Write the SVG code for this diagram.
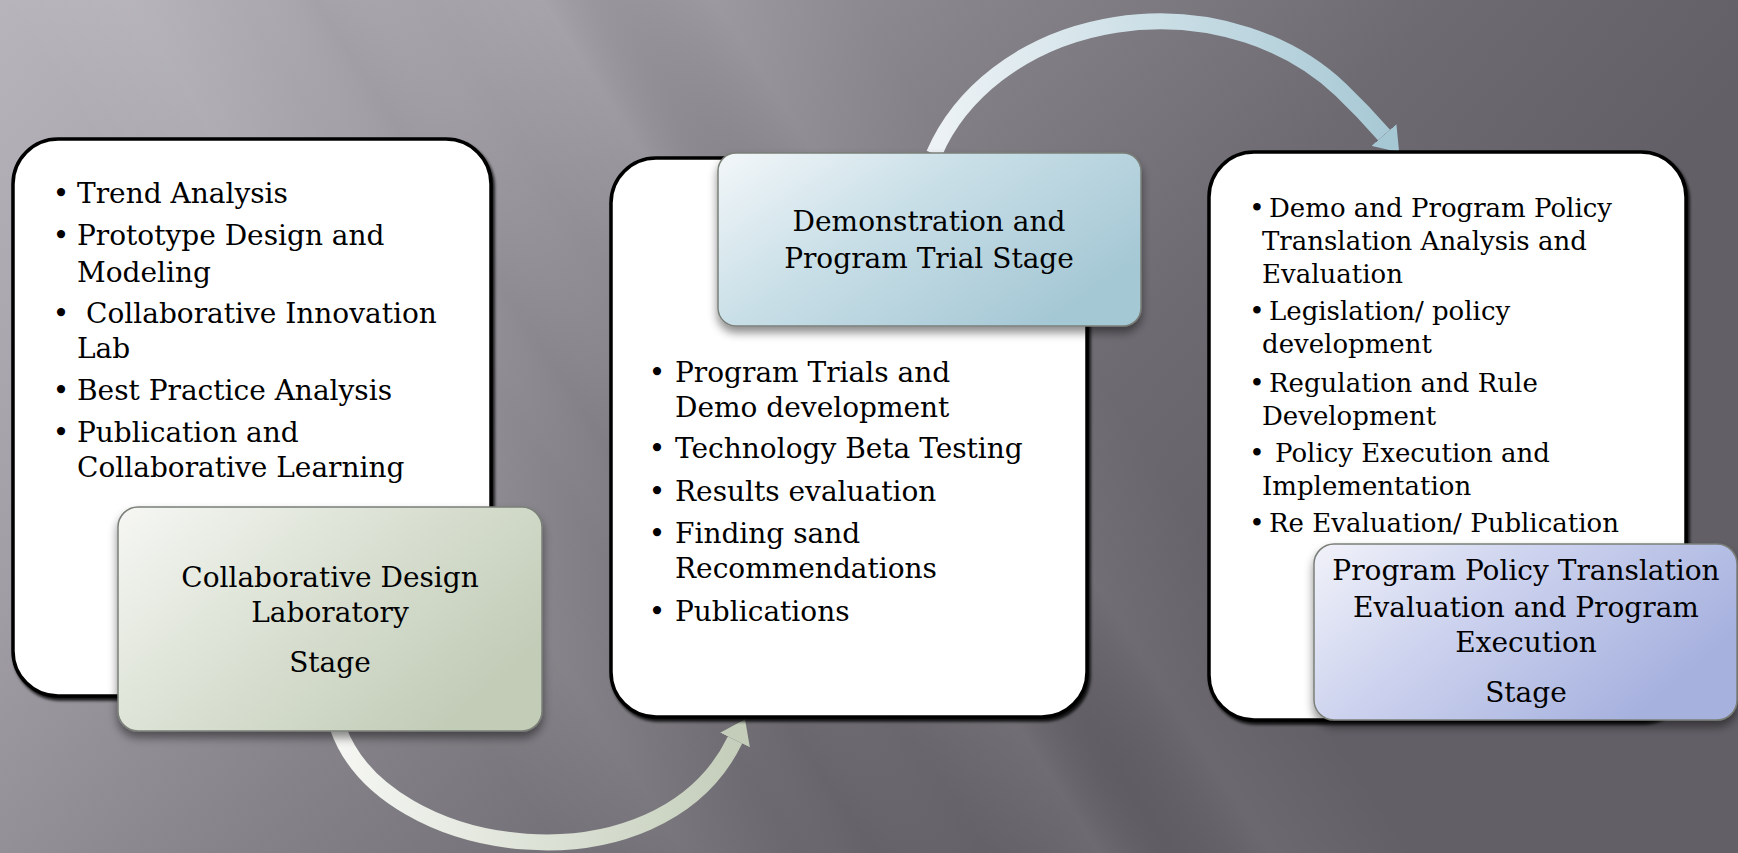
<svg xmlns="http://www.w3.org/2000/svg" width="1738" height="853" viewBox="0 0 1738 853">
<defs>
<linearGradient id="bg" gradientUnits="userSpaceOnUse" x1="0" y1="0" x2="1000" y2="900">
<stop offset="0" stop-color="#b7b4bc"/>
<stop offset="0.3" stop-color="#a09da5"/>
<stop offset="0.55" stop-color="#858289"/>
<stop offset="0.8" stop-color="#6d6a71"/>
<stop offset="1" stop-color="#625f66"/>
</linearGradient>
<linearGradient id="streak" gradientUnits="userSpaceOnUse" x1="0" y1="0" x2="1000" y2="-654">
<stop offset="0" stop-color="#ffffff" stop-opacity="0"/>
<stop offset="0.09" stop-color="#ffffff" stop-opacity="0.07"/>
<stop offset="0.17" stop-color="#ffffff" stop-opacity="0"/>
<stop offset="0.22" stop-color="#000000" stop-opacity="0.03"/>
<stop offset="0.3" stop-color="#ffffff" stop-opacity="0"/>
<stop offset="0.38" stop-color="#ffffff" stop-opacity="0.07"/>
<stop offset="0.43" stop-color="#000000" stop-opacity="0.03"/>
<stop offset="0.5" stop-color="#ffffff" stop-opacity="0.06"/>
<stop offset="0.6" stop-color="#ffffff" stop-opacity="0"/>
</linearGradient>
<linearGradient id="gGreen" x1="0" y1="0" x2="1" y2="0.6">
<stop offset="0" stop-color="#f6f7f4"/>
<stop offset="0.45" stop-color="#dde3d6"/>
<stop offset="1" stop-color="#c2ccb7"/>
</linearGradient>
<linearGradient id="gBlue" x1="0" y1="0" x2="1" y2="0.6">
<stop offset="0" stop-color="#f3f7f9"/>
<stop offset="0.45" stop-color="#c9dfe7"/>
<stop offset="1" stop-color="#a5c8d5"/>
</linearGradient>
<linearGradient id="gPurple" x1="0" y1="0" x2="1" y2="0.5">
<stop offset="0" stop-color="#f1f2f9"/>
<stop offset="0.45" stop-color="#ccd2ee"/>
<stop offset="1" stop-color="#a6b1de"/>
</linearGradient>
<linearGradient id="arcTop" gradientUnits="userSpaceOnUse" x1="925" y1="0" x2="1400" y2="0">
<stop offset="0" stop-color="#eef3f6"/>
<stop offset="1" stop-color="#a6c8d4"/>
</linearGradient>
<linearGradient id="arcBot" gradientUnits="userSpaceOnUse" x1="330" y1="0" x2="750" y2="0">
<stop offset="0" stop-color="#f6f7f4"/>
<stop offset="1" stop-color="#c3cdb9"/>
</linearGradient>
<marker id="headTop" markerUnits="userSpaceOnUse" markerWidth="23" markerHeight="33" refX="0" refY="16.5" orient="auto" viewBox="0 0 23 33">
<path d="M0,0 L23,16.5 L0,33 z" fill="#a6c8d4"/>
</marker>
<marker id="headBot" markerUnits="userSpaceOnUse" markerWidth="23" markerHeight="33" refX="0" refY="16.5" orient="auto" viewBox="0 0 23 33">
<path d="M0,0 L23,16.5 L0,33 z" fill="#c3cdb9"/>
</marker>
<filter id="boxShadow" x="-5%" y="-5%" width="112%" height="112%">
<feDropShadow dx="2" dy="3" stdDeviation="1.5" flood-color="#000" flood-opacity="0.85"/>
</filter>
<filter id="softShadow" x="-10%" y="-10%" width="125%" height="135%">
<feDropShadow dx="0" dy="6" stdDeviation="5" flood-color="#000" flood-opacity="0.45"/>
</filter>
<style>
.card{fill:#ffffff;stroke:#000000;stroke-width:3.5;filter:url(#boxShadow)}
.stage{stroke:#7a7f78;stroke-width:1.5;filter:url(#softShadow)}
.t{font-family:"DejaVu Serif","Liberation Serif",serif;font-size:28px;fill:#000}
.r{font-size:26px}
.c{text-anchor:middle}
.b{text-anchor:middle}
.arc{fill:none;stroke-width:16}
</style>
</defs>
<rect x="0" y="0" width="1738" height="853" fill="url(#bg)"/>
<rect x="0" y="0" width="1738" height="853" fill="url(#streak)"/>

<g id="connectors">
<path class="arc" d="M 934 154 A 240 200 0 0 1 1341 90 Q 1363 111 1384 135" stroke="url(#arcTop)" marker-end="url(#headTop)"/>
<path class="arc" d="M 338 728 C 385 860, 660 895, 735 740" stroke="url(#arcBot)" marker-end="url(#headBot)"/>
</g>

<g id="list-design">
<rect class="card" x="13" y="139" width="478" height="557" rx="45"/>
<text class="t b" x="61" y="203">•</text><text class="t" x="77" y="203">Trend Analysis</text>
<text class="t b" x="61" y="245">•</text><text class="t" x="77" y="245">Prototype Design and</text>
<text class="t" x="77" y="282">Modeling</text>
<text class="t b" x="61" y="323">•</text><text class="t" x="86" y="323">Collaborative Innovation</text>
<text class="t" x="77" y="358">Lab</text>
<text class="t b" x="61" y="400">•</text><text class="t" x="77" y="400">Best Practice Analysis</text>
<text class="t b" x="61" y="442">•</text><text class="t" x="77" y="442">Publication and</text>
<text class="t" x="77" y="477">Collaborative Learning</text>
</g>

<g id="stage-design">
<rect class="stage" x="118" y="507" width="424" height="224" rx="20" fill="url(#gGreen)"/>
<text class="t c" x="330" y="587">Collaborative Design</text>
<text class="t c" x="330" y="622">Laboratory</text>
<text class="t c" x="330" y="672">Stage</text>
</g>

<g id="list-demo">
<rect class="card" x="611" y="158" width="476" height="559" rx="45"/>
<text class="t b" x="657" y="382">•</text><text class="t" x="675" y="382">Program Trials and</text>
<text class="t" x="675" y="417">Demo development</text>
<text class="t b" x="657" y="458">•</text><text class="t" x="675" y="458">Technology Beta Testing</text>
<text class="t b" x="657" y="501">•</text><text class="t" x="675" y="501">Results evaluation</text>
<text class="t b" x="657" y="543">•</text><text class="t" x="675" y="543">Finding sand</text>
<text class="t" x="675" y="578">Recommendations</text>
<text class="t b" x="657" y="621">•</text><text class="t" x="675" y="621">Publications</text>
</g>

<g id="stage-demo">
<rect class="stage" x="718" y="153" width="423" height="173" rx="18" fill="url(#gBlue)"/>
<text class="t c" x="929" y="231">Demonstration and</text>
<text class="t c" x="929" y="268">Program Trial Stage</text>
</g>

<g id="list-policy">
<rect class="card" x="1209" y="152" width="477" height="568" rx="45"/>
<text class="t r b" x="1257" y="217">•</text><text class="t r" x="1269" y="217">Demo and Program Policy</text>
<text class="t r" x="1262" y="250">Translation Analysis and</text>
<text class="t r" x="1262" y="283">Evaluation</text>
<text class="t r b" x="1257" y="320">•</text><text class="t r" x="1269" y="320">Legislation/ policy</text>
<text class="t r" x="1262" y="353">development</text>
<text class="t r b" x="1257" y="392">•</text><text class="t r" x="1269" y="392">Regulation and Rule</text>
<text class="t r" x="1262" y="425">Development</text>
<text class="t r b" x="1257" y="462">•</text><text class="t r" x="1275" y="462">Policy Execution and</text>
<text class="t r" x="1262" y="495">Implementation</text>
<text class="t r b" x="1257" y="532">•</text><text class="t r" x="1269" y="532">Re Evaluation/ Publication</text>
</g>

<g id="stage-policy">
<rect class="stage" x="1314" y="544" width="423" height="176" rx="20" fill="url(#gPurple)"/>
<text class="t c" x="1526" y="580">Program Policy Translation</text>
<text class="t c" x="1526" y="617">Evaluation and  Program</text>
<text class="t c" x="1526" y="652">Execution</text>
<text class="t c" x="1526" y="702">Stage</text>
</g>
</svg>
